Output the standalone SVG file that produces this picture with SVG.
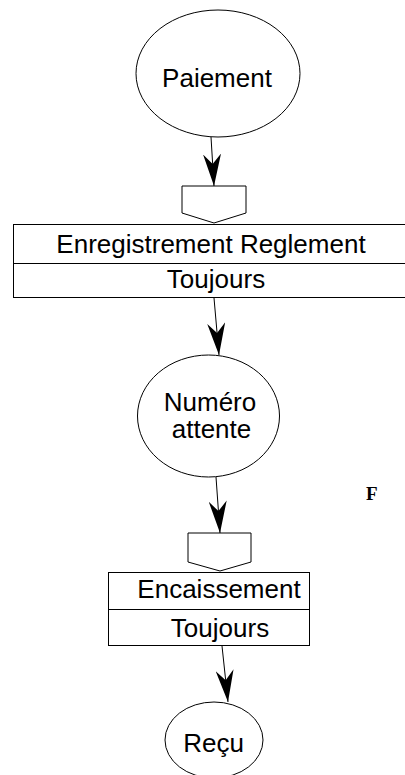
<svg xmlns="http://www.w3.org/2000/svg" width="405" height="775" viewBox="0 0 405 775">
<style>
.shape{fill:#fff;stroke:#000;stroke-width:1}
.lbl{font-family:"Liberation Sans",Arial,sans-serif;font-size:26px;fill:#000;text-anchor:middle}
.conn{stroke:#000;stroke-width:1;fill:none;marker-end:url(#arr)}
</style>
<defs>
<marker id="arr" markerUnits="userSpaceOnUse" viewBox="0 0 32 18" refX="32" refY="9" markerWidth="32" markerHeight="18" orient="auto">
<path d="M0,0 L32,9 L0,18 L10,9 Z" fill="#000"/>
</marker>
</defs>
<rect width="405" height="775" fill="#fff"/>
<g id="paiement">
<ellipse class="shape" cx="218" cy="73.5" rx="82" ry="63.5"/>
<text class="lbl" x="217" y="87">Paiement</text>
</g>
<g id="enregistrement">
<path class="shape" d="M182,186 H246 V213 L214,223 L182,213 Z"/>
<rect class="shape" x="13.5" y="224.5" width="400" height="73"/>
<line x1="13.5" y1="263.5" x2="413" y2="263.5" stroke="#000" stroke-width="1"/>
<text class="lbl" x="211" y="253">Enregistrement Reglement</text>
<text class="lbl" x="216" y="288">Toujours</text>
</g>
<g id="numero">
<ellipse class="shape" cx="208.5" cy="416" rx="71" ry="61"/>
<text class="lbl" x="210" y="411">Numéro</text>
<text class="lbl" x="211.5" y="438">attente</text>
</g>
<g id="encaissement">
<path class="shape" d="M188,533 H251 V562 L220,571 L188,562 Z"/>
<rect class="shape" x="108.5" y="572.5" width="201" height="73"/>
<line x1="108.5" y1="609.5" x2="309.5" y2="609.5" stroke="#000" stroke-width="1"/>
<text class="lbl" x="219" y="598">Encaissement</text>
<text class="lbl" x="220" y="637">Toujours</text>
</g>
<g id="recu">
<ellipse class="shape" cx="214" cy="740" rx="49" ry="38"/>
<text class="lbl" x="213.5" y="752">Reçu</text>
</g>
<text id="f" x="366" y="500" style="font-family:'Liberation Serif','Times New Roman',serif;font-weight:bold;font-size:19px;fill:#000">F</text>
<g id="connectors">
<line class="conn" x1="211" y1="137" x2="214" y2="186"/>
<line class="conn" x1="214" y1="298" x2="219" y2="355"/>
<line class="conn" x1="216" y1="477" x2="220" y2="533"/>
<line class="conn" x1="222" y1="646" x2="228" y2="702"/>
</g>
</svg>
